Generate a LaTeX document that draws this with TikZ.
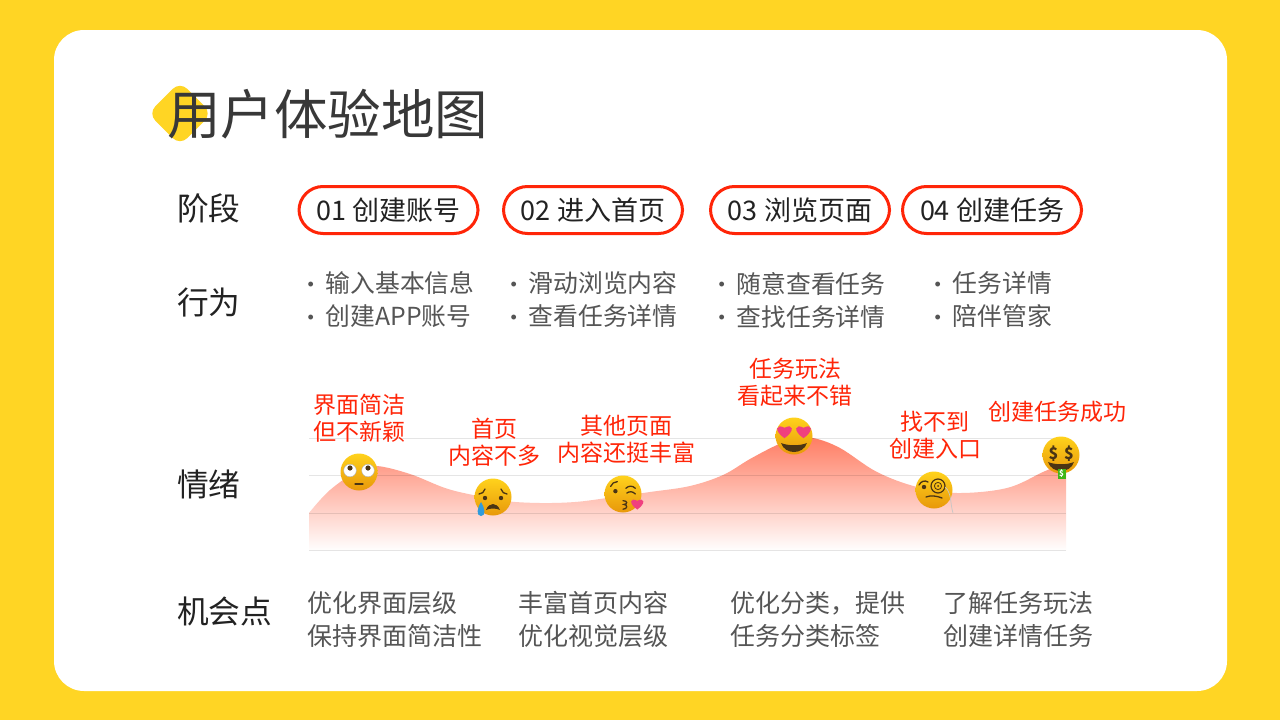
\documentclass[tikz,border=0pt]{standalone}
\usepackage{fontspec}
\usepackage{xcolor}
\setmainfont{Noto Sans CJK SC}
\newfontfamily\dotfont{Liberation Sans}
\newcommand{\listdot}{\makebox[18pt][l]{\raisebox{2.5pt}{\fontsize{18}{18}\dotfont •}}}
\definecolor{sunYellow}{HTML}{FFD524}
\definecolor{pillRed}{HTML}{FF2508}
\definecolor{titleGray}{HTML}{383838}
\definecolor{headGray}{HTML}{222222}
\definecolor{bodyGray}{HTML}{555555}
\definecolor{curveCoral}{HTML}{FF7C62}
\definecolor{faceTop}{HTML}{FFD21C}
\definecolor{faceMid}{HTML}{FDBE12}
\definecolor{faceLow}{HTML}{E8980A}
\definecolor{faceInk}{HTML}{4A3414}
\definecolor{heartPink}{HTML}{F0407F}
\definecolor{tearBlue}{HTML}{2F9BDC}
\definecolor{billGreen}{HTML}{3FB618}
\tikzset{
  headLabel/.style={anchor=west, inner sep=0pt, text=headGray, font=\fontsize{31.7}{36}\selectfont},
  stagePill/.style={draw=pillRed, line width=3pt, fill=white, rounded corners=24pt,
    minimum width=179pt, minimum height=47pt, inner sep=0pt, text=headGray,
    font=\fontsize{27}{30}\selectfont},
  actionText/.style={anchor=west, align=left, inner sep=0pt, text=bodyGray,
    font=\fontsize{24.8}{33}\selectfont},
  chanceText/.style={actionText, font=\fontsize{25}{33}\selectfont},
  moodText/.style={align=center, inner sep=0pt, text=pillRed,
    font=\fontsize{23}{27}\selectfont},
  gridLine/.style={draw=black, opacity=0.1, line width=0.9pt},
  inkLine/.style={draw=faceInk, line width=1.3pt, line cap=round},
  faceBall/.pic={
    \shade [top color=faceTop, middle color=faceMid, bottom color=faceLow] (0,0) circle [radius=18.5];
  },
  heartMark/.pic={
    \fill [heartPink] (0,1) .. controls (-1.5,0) and (-1.2,-1.1) .. (0,-0.45)
      .. controls (1.2,-1.1) and (1.5,0) .. (0,1) -- cycle;
  },
  grinMouth/.pic={
    \fill [faceInk] (-13,7) .. controls (-6,10) and (6,10) .. (13,7)
      .. controls (9,19) and (-9,19) .. (-13,7) -- cycle;
  },
  rollFace/.pic={
    \pic {faceBall};
    \fill [white] (-9,-1.5) circle [radius=6.3];
    \fill [white] (9,-1.5) circle [radius=6.3];
    \draw [gray!60, line width=0.4pt] (-9,-1.5) circle [radius=6.3];
    \draw [gray!60, line width=0.4pt] (9,-1.5) circle [radius=6.3];
    \fill [faceInk] (-9,-4) circle [radius=2.6];
    \fill [faceInk] (9,-4) circle [radius=2.6];
    \draw [inkLine] (-4,12) -- (4,12);
  },
  sadFace/.pic={
    \pic {faceBall};
    \draw [inkLine] (-14,-3) .. controls (-11,-3) and (-9,-5) .. (-8,-8);
    \draw [inkLine] (14,-3) .. controls (11,-3) and (9,-5) .. (8,-8);
    \fill [faceInk] (-8,1) circle [radius=2.2];
    \fill [faceInk] (8,1) circle [radius=2.2];
    \fill [faceInk] (-7,13) .. controls (-4,5) and (4,5) .. (7,13)
      .. controls (3,11) and (-3,11) .. (-7,13) -- cycle;
    \fill [tearBlue] (-12,5) .. controls (-16,11) and (-17,19) .. (-12,19)
      .. controls (-7,19) and (-8,11) .. (-12,5) -- cycle;
  },
  kissFace/.pic={
    \pic {faceBall};
    \draw [inkLine] (-13,-8) .. controls (-12,-11) and (-9,-13) .. (-6,-13);
    \fill [faceInk] (-8,-3) circle [radius=2.3];
    \draw [inkLine] (3,-6) .. controls (6,-9) and (10,-9) .. (13,-6);
    \draw [inkLine] (4,-1) .. controls (7,-3) and (10,-3) .. (13,0);
    \draw [inkLine] (0,7) .. controls (5,7) and (5,11) .. (1,11) .. controls (5,11) and (5,16) .. (0,16);
    \pic [scale=6] at (15,10) {heartMark};
  },
  loveFace/.pic={
    \pic {faceBall};
    \pic {grinMouth};
    \pic [scale=7.2] at (-9.5,-5) {heartMark};
    \pic [scale=7.2] at (9.5,-5) {heartMark};
  },
  monocleFace/.pic={
    \pic {faceBall};
    \draw [inkLine] (-15,-5) .. controls (-13,-9) and (-9,-10) .. (-6,-8);
    \fill [faceInk] (-10,-3) circle [radius=2.2];
    \draw [faceInk, line width=1.2pt] (4,-4) circle [radius=7];
    \draw [faceInk, line width=0.8pt] (4,-4) circle [radius=3.6];
    \fill [faceInk] (4,-4) circle [radius=1];
    \draw [inkLine] (-8,7) .. controls (-3,5) and (3,6) .. (8,8);
    \draw [gray!45, line width=0.7pt] (11,-3) .. controls (18,3) and (16,14) .. (19,23);
  },
  moneyFace/.pic={
    \pic {faceBall};
    \pic {grinMouth};
    \node [text=faceInk, inner sep=0pt, font=\fontsize{16}{16}\bfseries\selectfont] at (-7.5,-1) {\$};
    \node [text=faceInk, inner sep=0pt, font=\fontsize{16}{16}\bfseries\selectfont] at (8,-1) {\$};
    \node [fill=billGreen, text=white, minimum width=8pt, minimum height=10pt, inner sep=0pt,
      font=\fontsize{8}{8}\bfseries\selectfont] at (0.5,19) {\$};
  },
}

\begin{document}
\begin{tikzpicture}[x=1pt, y=-1pt]
  % Page and card.
  \fill [fill=sunYellow] (0,0) rectangle (1280,720);
  \fill [fill=white, rounded corners=30pt] (54,30) rectangle (1227,691);
  % Title.
  \node (titleMark) [fill=sunYellow, rotate=45, minimum size=45pt, inner sep=0pt, rounded corners=10pt] at (180,113.5) {};
  \node (titleText) [anchor=west, inner sep=0pt, text=titleGray, font=\fontsize{53.5}{60}\selectfont] at (167,114.5) {用户体验地图};
  % Row heads.
  \node (stageHead) [headLabel] at (177,208) {阶段};
  \node (actionHead) [headLabel] at (177,302.5) {行为};
  \node (moodHead) [headLabel] at (177,484) {情绪};
  \node (chanceHead) [headLabel] at (177,611.5) {机会点};
  % Stages.
  \node (stageOne) [stagePill] at (388.5,210) {01 创建账号};
  \node (stageTwo) [stagePill] at (593,210) {02 进入首页};
  \node (stageThree) [stagePill] at (800,210) {03 浏览页面};
  \node (stageFour) [stagePill] at (992,210) {04 创建任务};
  % Actions.
  \node (actionOne) [actionText] at (307.5,300) {\listdot 输入基本信息\\\listdot 创建APP账号};
  \node (actionTwo) [actionText] at (510.5,300) {\listdot 滑动浏览内容\\\listdot 查看任务详情};
  \node (actionThree) [actionText] at (718.5,300) {\listdot 随意查看任务\\\listdot 查找任务详情};
  \node (actionFour) [actionText] at (934.5,300) {\listdot 任务详情\\\listdot 陪伴管家};
  % Mood curve.
  \shade [top color=curveCoral, bottom color=white] plot [smooth, tension=0.6] coordinates {
      (309,513) (330,490) (359,470) (377,466) (410,474) (445,488) (473,495) (505,501) (540,503)
      (575,502) (607,498) (650,492) (690,486) (723,475) (750,459) (777,445) (795,439) (813,438)
      (840,448) (877,472) (917,487) (957,493) (1007,488) (1043,472) (1066,462)}
    -- (1066,551) -- (309,551) -- cycle;
  \draw [gridLine] (309,438) -- (1066,438);
  \draw [gridLine] (309,475) -- (1066,475);
  \draw [gridLine] (309,513) -- (1066,513);
  \draw [gridLine] (309,550.5) -- (1066,550.5);
  % Mood faces.
  \pic at (359,472) {rollFace};
  \pic at (493,497) {sadFace};
  \pic [scale=0.95] at (623,494) {kissFace};
  \pic at (794,436) {loveFace};
  \pic at (934,490) {monocleFace};
  \pic at (1061,455) {moneyFace};
  % Mood labels.
  \node (moodOne) [moodText] at (359,418) {界面简洁\\但不新颖};
  \node (moodTwo) [moodText] at (494,442) {首页\\内容不多};
  \node (moodThree) [moodText] at (626,439) {其他页面\\内容还挺丰富};
  \node (moodFour) [moodText] at (795,382) {任务玩法\\看起来不错};
  \node (moodFive) [moodText] at (935,435) {找不到\\创建入口};
  \node (moodSix) [moodText] at (1057,412) {创建任务成功};
  % Chances.
  \node (chanceOne) [chanceText] at (307,619.5) {优化界面层级\\保持界面简洁性};
  \node (chanceTwo) [chanceText] at (518,619.5) {丰富首页内容\\优化视觉层级};
  \node (chanceThree) [chanceText] at (730,619.5) {优化分类，提供\\任务分类标签};
  \node (chanceFour) [chanceText] at (943,619.5) {了解任务玩法\\创建详情任务};
\end{tikzpicture}
\end{document}
